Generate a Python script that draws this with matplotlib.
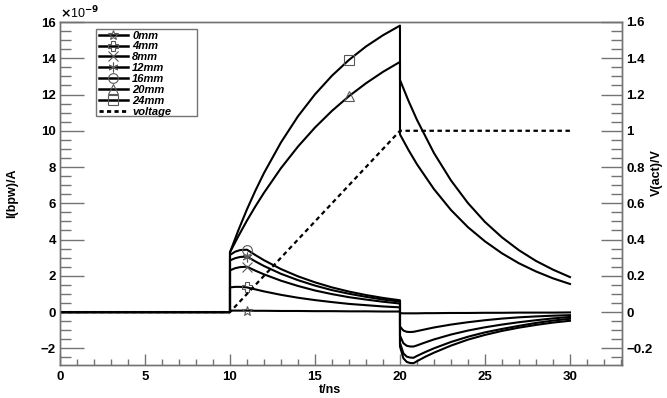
import numpy as np
import matplotlib
matplotlib.use("Agg")
import matplotlib.pyplot as plt
from matplotlib.ticker import MultipleLocator, FuncFormatter
from matplotlib.lines import Line2D
from matplotlib.patches import Rectangle

plt.rcParams["font.family"] = ["Liberation Sans", "DejaVu Sans"]
plt.rcParams["font.weight"] = "bold"

# ---------- data (current in units of 1e-9 A) ----------
T_BIG = [0, 10, 10, 10.5, 11, 11.5, 12, 13, 14, 15, 16, 17, 18, 19, 20,
         20, 20.5, 21, 22, 23, 24, 25, 26, 27, 28, 29, 30]
I_24 = [0, 0, 3.3, 4.53, 5.67, 6.71, 7.67, 9.36, 10.80, 12.01, 13.04, 13.91, 14.65, 15.27, 15.80,
        12.8, 11.65, 10.60, 8.77, 7.26, 6.01, 4.97, 4.12, 3.41, 2.82, 2.34, 1.93]
I_20 = [0, 0, 3.3, 4.20, 5.05, 5.84, 6.58, 7.94, 9.13, 10.18, 11.10, 11.91, 12.62, 13.25, 13.80,
        9.8, 8.94, 8.15, 6.78, 5.63, 4.68, 3.90, 3.24, 2.69, 2.24, 1.86, 1.55]

T_SMALL = [0, 10, 10, 10.3, 10.6, 11, 11.5, 12, 13, 14, 15, 16, 17, 18, 19, 20,
           20, 20.2, 20.4, 20.6, 20.8, 21, 21.5, 22, 23, 24, 25, 26, 27, 28, 29, 30]
I_16 = [0, 0, 3.15, 3.33, 3.42, 3.44, 3.14, 2.86, 2.37, 1.97, 1.64, 1.36, 1.13, 0.94, 0.78, 0.65,
        -1.9, -2.55, -2.75, -2.81, -2.82, -2.71, -2.46, -2.24, -1.85, -1.52, -1.26, -1.04, -0.86, -0.71, -0.58, -0.48]
I_12 = [0, 0, 2.85, 2.97, 3.04, 3.06, 2.79, 2.54, 2.11, 1.76, 1.46, 1.21, 1.01, 0.84, 0.69, 0.58,
        -1.7, -2.28, -2.46, -2.51, -2.52, -2.42, -2.20, -2.00, -1.65, -1.36, -1.12, -0.93, -0.76, -0.60, -0.47, -0.37]
I_8 = [0, 0, 2.3, 2.42, 2.48, 2.5, 2.28, 2.08, 1.73, 1.44, 1.19, 0.99, 0.82, 0.69, 0.57, 0.47,
       -1.3, -1.72, -1.86, -1.9, -1.9, -1.84, -1.67, -1.51, -1.24, -1.02, -0.84, -0.69, -0.56, -0.45, -0.35, -0.27]
I_4 = [0, 0, 1.36, 1.39, 1.39, 1.36, 1.25, 1.14, 0.95, 0.79, 0.66, 0.55, 0.45, 0.38, 0.31, 0.26,
       -0.8, -1.02, -1.09, -1.1, -1.09, -1.05, -0.95, -0.85, -0.69, -0.56, -0.45, -0.36, -0.29, -0.24, -0.20, -0.17]
I_0 = [0, 0, 0.08, 0.08, 0.08, 0.08, 0.07, 0.07, 0.06, 0.06, 0.05, 0.05, 0.04, 0.04, 0.03, 0.03,
       -0.06, -0.07, -0.07, -0.07, -0.07, -0.07, -0.06, -0.06, -0.05, -0.05, -0.04, -0.04, -0.03, -0.03, -0.03, -0.02]

T_V = [0, 10, 20, 30]
V_ACT = [0, 0, 1, 1]

MARK_SMALL = 5   # index of t = 11 ns
MARK_BIG = 11    # index of t = 17 ns

ASTER = (6, 2, 0)
SERIES = [
    ("0mm", T_SMALL, I_0, "*", MARK_SMALL),
    ("4mm", T_SMALL, I_4, "P", MARK_SMALL),
    ("8mm", T_SMALL, I_8, "x", MARK_SMALL),
    ("12mm", T_SMALL, I_12, ASTER, MARK_SMALL),
    ("16mm", T_SMALL, I_16, "o", MARK_SMALL),
    ("20mm", T_BIG, I_20, "^", MARK_BIG),
    ("24mm", T_BIG, I_24, "s", MARK_BIG),
]

def minus(s):
    return s.replace("-", "\u2212")

# ---------- figure ----------
fig = plt.figure(figsize=(6.67, 3.98), dpi=100)
ax = fig.add_axes([60 / 667, 33 / 398, 562 / 667, 343 / 398])
ax2 = ax.twinx()

handles = []
for name, t, i, mk, idx in SERIES:
    ax.plot(t, i, color="black", lw=1.5,
            marker=mk, markevery=[idx], ms=7, mfc="none", mec="0.35", mew=0.8)
    handles.append(Line2D([], [], color="black", lw=1.8, marker=mk, ms=7,
                          mfc="none", mec="0.35", mew=0.8, label=name))

ax2.plot(T_V, V_ACT, color="black", lw=1.6, ls=(0, (2, 1.6)))
handles.append(Line2D([], [], color="black", lw=2.0, ls=(0, (1.5, 1.2)), label="voltage"))

ax.set_xlim(0, 33.06)
ax.set_ylim(-2.92, 16)
ax2.set_ylim(-0.292, 1.6)

ax.xaxis.set_major_locator(MultipleLocator(5))
ax.xaxis.set_minor_locator(MultipleLocator(1))
ax.yaxis.set_major_locator(MultipleLocator(2))
ax.yaxis.set_minor_locator(MultipleLocator(0.5))
ax2.yaxis.set_major_locator(MultipleLocator(0.2))
ax2.yaxis.set_minor_locator(MultipleLocator(0.05))

ax.xaxis.set_major_formatter(FuncFormatter(lambda v, p: "%g" % v))
ax.yaxis.set_major_formatter(FuncFormatter(lambda v, p: minus("%g" % round(v, 6))))
ax2.yaxis.set_major_formatter(FuncFormatter(lambda v, p: minus("%g" % round(v, 6))))

frame_col = "0.45"
for a in (ax, ax2):
    for s in a.spines.values():
        s.set_color(frame_col)
        s.set_linewidth(1.0)

ax.tick_params(axis="x", which="major", direction="in", length=8, width=1, color=frame_col,
               labelsize=9.5, pad=4, top=False)
ax.tick_params(axis="x", which="minor", direction="in", length=4, width=1, color=frame_col, top=False)
ax.tick_params(axis="y", which="major", direction="in", length=17, width=1, color=frame_col,
               labelsize=9.5, pad=3, right=False)
ax.tick_params(axis="y", which="minor", direction="in", length=8, width=1, color=frame_col, right=False)
ax2.tick_params(axis="y", which="major", direction="in", length=15, width=1, color=frame_col,
                labelsize=9.5, pad=3)
ax2.tick_params(axis="y", which="minor", direction="in", length=8, width=1, color=frame_col)

ax.text(0.0, 1.003, r"$\times$10$^{-9}$", transform=ax.transAxes, ha="left", va="bottom",
        fontsize=9, fontweight="normal")

ax.set_xlabel("t/ns", fontsize=9, fontweight="bold")
ax.xaxis.set_label_coords(0.48, -0.055)
ax.set_ylabel("I(bpw)/A", fontsize=9, fontweight="bold")
ax.yaxis.set_label_coords(-0.075, 0.5)
ax2.set_ylabel("V(act)/V", fontsize=9, fontweight="bold")
ax2.yaxis.set_label_coords(1.052, 0.56)

# legend with a ROOT-like box that is wider than its contents
leg = ax.legend(handles=handles, loc="upper left", bbox_to_anchor=(0.069, 0.975),
                prop={"size": 8, "style": "italic", "weight": "bold"},
                frameon=False, handlelength=2.6,
                handletextpad=0.4, labelspacing=0.08, borderpad=0.0, borderaxespad=0)
ax.add_patch(Rectangle((0.0635, 0.727), 0.1805, 0.253, transform=ax.transAxes,
                       fill=False, edgecolor="0.45", lw=1.0, zorder=5))

fig.savefig("out.png", dpi=100)
